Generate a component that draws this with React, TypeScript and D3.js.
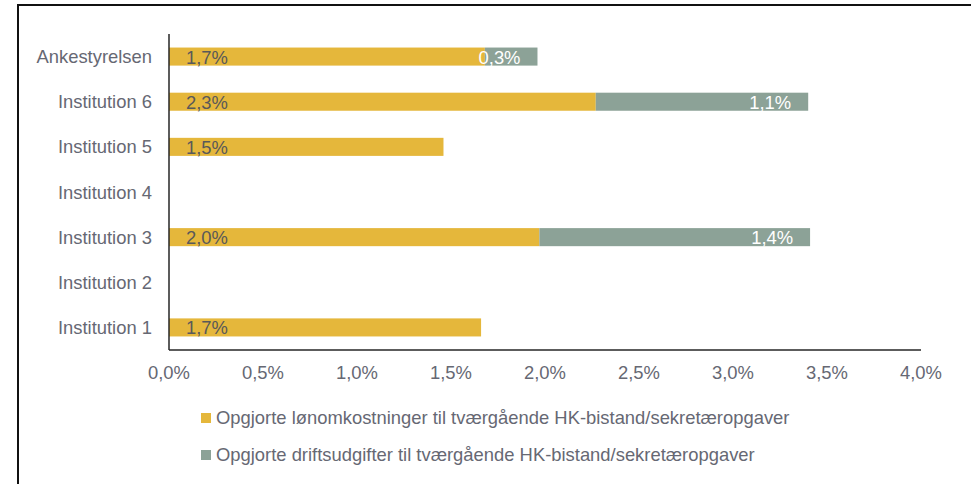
import React from 'react';
import * as d3 from 'd3';

const categories = ['Ankestyrelsen', 'Institution 6', 'Institution 5', 'Institution 4', 'Institution 3', 'Institution 2', 'Institution 1'];
const loenValues = [1.68, 2.27, 1.46, 0, 1.97, 0, 1.66];
const loenLabels = ['1,7%', '2,3%', '1,5%', '', '2,0%', '', '1,7%'];
const driftValues = [0.28, 1.13, 0, 0, 1.44, 0, 0];
const driftLabels = ['0,3%', '1,1%', '', '', '1,4%', '', ''];
const xTicks = [0, 0.5, 1, 1.5, 2, 2.5, 3, 3.5, 4];
const legendLabels = [
  'Opgjorte lønomkostninger til tværgående HK-bistand/sekretæropgaver',
  'Opgjorte driftsudgifter til tværgående HK-bistand/sekretæropgaver',
];

const W = 971;
const H = 484;
const YELLOW = '#E5B73B';
const GREEN = '#8CA297';
const TEXT = '#666873';
const FONT = '"Liberation Sans", Arial, sans-serif';
const FS = 18.4;

const fmt = (v: number) => v.toFixed(1).replace('.', ',') + '%';

export default function App() {
  const x = d3.scaleLinear().domain([0, 4]).range([169, 921]);
  const y = d3.scaleBand<string>().domain(categories).range([34, 350]).paddingInner(0.6).paddingOuter(0.3);
  const bh = y.bandwidth();

  return (
    <svg width={W} height={H} style={{ position: 'absolute', left: 0, top: 0, fontFamily: FONT }}>
      <rect x={0} y={0} width={W} height={H} fill="#fff" />
      {/* frame */}
      <rect x={18} y={5} width={1200} height={1200} fill="none" stroke="#111" strokeWidth={2} />

      {/* bars */}
      {categories.map((c, i) => {
        const y0 = y(c) as number;
        const cy = y0 + bh / 2;
        return (
          <g key={c}>
            {loenValues[i] > 0 && (
              <rect x={x(0)} y={y0} width={x(loenValues[i]) - x(0)} height={bh} fill={YELLOW} />
            )}
            {driftValues[i] > 0 && (
              <rect x={x(loenValues[i])} y={y0} width={x(loenValues[i] + driftValues[i]) - x(loenValues[i])} height={bh} fill={GREEN} />
            )}
            {loenLabels[i] && (
              <text x={x(0) + 17} y={cy} dy="0.38em" fontSize={FS} fill="#595959">{loenLabels[i]}</text>
            )}
            {driftLabels[i] && (
              <text x={x(loenValues[i] + driftValues[i]) - 17} y={cy} dy="0.38em" fontSize={FS} fill="#fff" textAnchor="end">{driftLabels[i]}</text>
            )}
            <text x={x(0) - 17} y={cy} dy="0.36em" fontSize={FS} fill={TEXT} textAnchor="end">{c}</text>
          </g>
        );
      })}

      {/* axes */}
      <line x1={x(0)} x2={x(0)} y1={34} y2={350} stroke="#262626" strokeWidth={1.5} />
      <line x1={x(0)} x2={x(4)} y1={350} y2={350} stroke="#262626" strokeWidth={1.5} />
      {xTicks.map((t) => (
        <text key={t} x={x(t)} y={379} fontSize={FS} fill={TEXT} textAnchor="middle">{fmt(t)}</text>
      ))}

      {/* legend */}
      {legendLabels.map((l, i) => (
        <g key={l} transform={`translate(201, ${413 + i * 37})`}>
          <rect x={0} y={0} width={10} height={10} fill={i === 0 ? YELLOW : GREEN} />
          <text x={15} y={11} fontSize={FS} fill={TEXT}>{l}</text>
        </g>
      ))}
    </svg>
  );
}
